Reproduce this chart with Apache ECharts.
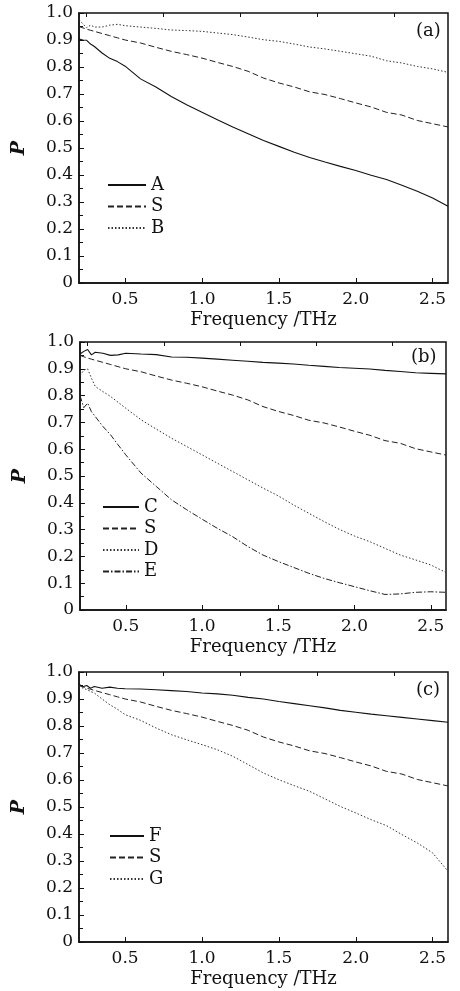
<!DOCTYPE html>
<html>
<head>
<meta charset="utf-8">
<script src="https://cdn.jsdelivr.net/npm/echarts@6/dist/echarts.min.js"></script>
<style>
html,body{margin:0;padding:0;background:#fff;}
#c{width:460px;height:991px;}
</style>
</head>
<body>
<div id="c"></div>
<script>
// ---- data ----
const freq = [0.20,0.225,0.25,0.275,0.30,0.35,0.40,0.45,0.50,0.60,0.70,0.80,0.90,1.00,1.10,1.20,1.30,1.40,1.50,1.60,1.70,1.80,1.90,2.00,2.10,2.20,2.30,2.40,2.50,2.60];

const valA = [0.904,0.900,0.899,0.885,0.876,0.852,0.832,0.820,0.803,0.756,0.726,0.691,0.660,0.632,0.605,0.578,0.553,0.528,0.506,0.484,0.465,0.448,0.432,0.417,0.399,0.383,0.362,0.340,0.315,0.284];
const valS = [0.950,0.945,0.940,0.936,0.932,0.924,0.916,0.908,0.900,0.889,0.873,0.858,0.846,0.833,0.817,0.802,0.784,0.759,0.741,0.726,0.708,0.698,0.683,0.667,0.652,0.632,0.622,0.602,0.590,0.578];
const valB = [0.975,0.960,0.945,0.955,0.948,0.948,0.955,0.958,0.953,0.948,0.943,0.937,0.935,0.932,0.926,0.920,0.911,0.901,0.895,0.885,0.874,0.867,0.858,0.849,0.840,0.823,0.815,0.802,0.793,0.780];

const valC = [0.955,0.965,0.972,0.952,0.962,0.958,0.950,0.952,0.958,0.955,0.953,0.944,0.943,0.940,0.936,0.932,0.928,0.924,0.921,0.918,0.913,0.909,0.905,0.902,0.899,0.894,0.890,0.885,0.883,0.881];
const valD = [0.875,0.895,0.900,0.865,0.834,0.815,0.797,0.775,0.753,0.710,0.675,0.641,0.610,0.579,0.548,0.517,0.486,0.455,0.426,0.392,0.361,0.330,0.301,0.276,0.255,0.230,0.205,0.187,0.168,0.140];
const valE = [0.800,0.755,0.772,0.740,0.722,0.685,0.654,0.616,0.579,0.511,0.461,0.411,0.374,0.339,0.305,0.274,0.237,0.205,0.181,0.159,0.137,0.118,0.102,0.087,0.072,0.058,0.060,0.066,0.068,0.066];

const valF = [0.955,0.945,0.950,0.940,0.946,0.940,0.944,0.940,0.938,0.937,0.934,0.931,0.928,0.922,0.919,0.914,0.906,0.900,0.891,0.883,0.875,0.867,0.858,0.851,0.844,0.838,0.832,0.826,0.820,0.814];
const valG = [0.950,0.940,0.935,0.928,0.922,0.900,0.879,0.862,0.842,0.821,0.793,0.768,0.749,0.731,0.712,0.688,0.657,0.626,0.601,0.579,0.558,0.530,0.502,0.478,0.453,0.431,0.398,0.367,0.330,0.262];

const xMajorTicks = [0.5,1.0,1.5,2.0,2.5];
const xMinorTicks = [0.25,0.75,1.25,1.75,2.25];
const panelLabels = ['(a)','(b)','(c)'];
const legendNames = [['A','S','B'],['C','S','D','E'],['F','S','G']];
const xTitle = 'Frequency /THz';
const yTitle = 'P';

// ---- styles ----
const FONT = 'DejaVu Serif';
const INK = '#111';
const styles = {
  solid: {type:'solid', width:1.1, color:INK},
  dashed: {type:[6,3], width:1, color:'#222'},
  dotted: {type:[1.5,2], width:1, color:'#333'},
  dashdot: {type:[6,2,1.5,2], width:1, color:'#222'}
};

const grids = [
  {left:79, right:12, top:13, height:270},
  {left:80, right:14, top:342, height:268},
  {left:79, right:12, top:672, height:270}
];

function zip(vals){ return freq.map((f,i)=>[f, vals[i]]); }

const xAxes = [], yAxes = [], series = [], legends = [], titles = [];
grids.forEach((g,gi)=>{
  g.show = true; g.borderColor = INK; g.borderWidth = 1.5; g.containLabel = false;
  xAxes.push({
    type:'value', gridIndex:gi, min:0.2, max:2.6,
    name:xTitle, nameLocation:'middle', nameGap:28,
    nameTextStyle:{fontFamily:FONT, fontSize:18, color:INK},
    axisLine:{show:true, lineStyle:{color:INK, width:1.5}},
    axisTick:{show:true, inside:true, length:5, lineStyle:{color:INK, width:1}, customValues:xMajorTicks},
    axisLabel:{show:true, margin:8, fontFamily:FONT, fontSize:17, color:INK, customValues:xMajorTicks,
      formatter:v=>v.toFixed(1)},
    splitLine:{show:false}
  });
  xAxes.push({
    type:'value', gridIndex:gi, min:0.2, max:2.6,
    axisLine:{show:false},
    axisTick:{show:true, inside:true, length:4, lineStyle:{color:INK, width:1}, customValues:xMinorTicks},
    axisLabel:{show:false},
    splitLine:{show:false}
  });
  yAxes.push({
    type:'value', gridIndex:gi, min:0, max:1, interval:0.1,
    name:yTitle, nameLocation:'middle', nameGap:50,
    nameTextStyle:{fontFamily:FONT, fontSize:19, fontStyle:'italic', fontWeight:'bold', color:INK},
    axisLine:{show:true, lineStyle:{color:INK, width:1.5}},
    axisTick:{show:true, inside:true, length:5, lineStyle:{color:INK, width:1}},
    minorTick:{show:true, splitNumber:2, length:4, lineStyle:{color:INK, width:1}},
    axisLabel:{margin:6, fontFamily:FONT, fontSize:17, color:INK,
      formatter:v=> v===0 ? '0' : v.toFixed(1)},
    splitLine:{show:false}
  });
});

function addSeries(name, vals, style, gi){
  series.push({
    name:name, type:'line', xAxisIndex:gi*2, yAxisIndex:gi,
    data:zip(vals), symbol:'none', smooth:false, animation:false,
    lineStyle:style, itemStyle:{color:style.color}
  });
}
addSeries('A', valA, styles.solid, 0);
addSeries('S', valS, styles.dashed, 0);
addSeries('B', valB, styles.dotted, 0);
addSeries('C', valC, styles.solid, 1);
addSeries('S', valS, styles.dashed, 1);
addSeries('D', valD, styles.dotted, 1);
addSeries('E', valE, styles.dashdot, 1);
addSeries('F', valF, styles.solid, 2);
addSeries('S', valS, styles.dashed, 2);
addSeries('G', valG, styles.dotted, 2);

const legendPos = [
  {left:107, top:176, itemWidth:38},
  {left:102, top:498, itemWidth:36},
  {left:109, top:827, itemWidth:34}
];
legendPos.forEach((p,i)=>{
  legends.push({
    orient:'vertical', left:p.left, top:p.top, itemWidth:p.itemWidth, itemHeight:14,
    itemGap:3.5, padding:0, selectedMode:false,
    itemStyle:{opacity:0, borderWidth:0},
    data:legendNames[i],
    textStyle:{fontFamily:FONT, fontSize:18, color:INK, padding:[0,0,0,0]}
  });
});

const titlePos = [{left:416, top:22},{left:411, top:348},{left:416, top:681}];
titlePos.forEach((p,i)=>{
  titles.push({text:panelLabels[i], left:p.left, top:p.top, padding:0,
    textStyle:{fontFamily:FONT, fontSize:18, fontWeight:'normal', color:INK}});
});

const chart = echarts.init(document.getElementById('c'), null, {renderer:'canvas'});
chart.setOption({
  backgroundColor:'#fff',
  animation:false,
  title:titles,
  legend:legends,
  grid:grids,
  xAxis:xAxes,
  yAxis:yAxes,
  series:series
});
</script>
</body>
</html>
